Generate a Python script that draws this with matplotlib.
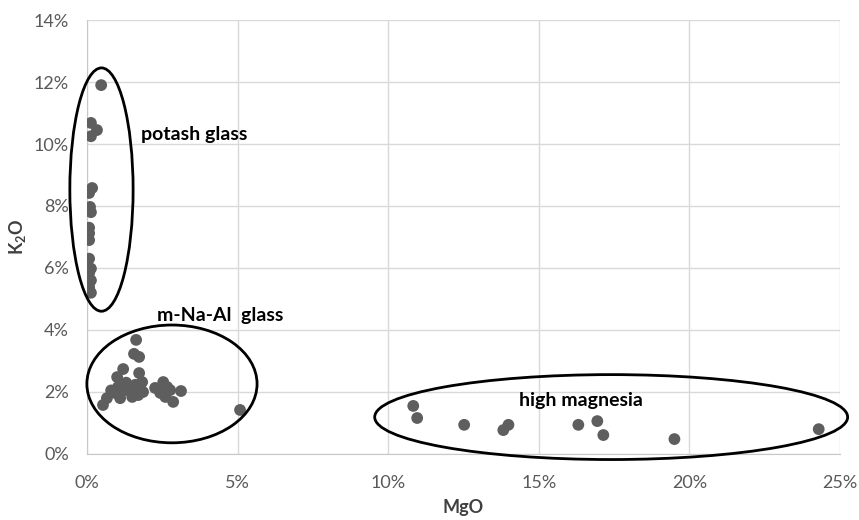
import matplotlib
matplotlib.use("Agg")
import matplotlib.pyplot as plt
from matplotlib.patches import Ellipse
from matplotlib.ticker import PercentFormatter

plt.rcParams['font.family'] = ['Lato', 'DejaVu Sans']
plt.rcParams['mathtext.fontset'] = 'custom'
plt.rcParams['mathtext.bf'] = 'Lato:bold'
plt.rcParams['mathtext.rm'] = 'Lato'

# MgO (%) and K2O (%) values
potash_mgo = [0.47, 0.13, 0.33, 0.13, 0.17, 0.07, 0.10, 0.13, 0.07, 0.07, 0.07, 0.07, 0.13, 0.07, 0.13, 0.07, 0.13]
potash_k2o = [11.9, 10.68, 10.45, 10.25, 8.58, 8.42, 7.97, 7.8, 7.3, 7.12, 6.9, 6.3, 5.98, 5.84, 5.6, 5.38, 5.2]

mnaal_mgo = [1.63, 1.56, 1.73, 1.2, 1.0, 1.73, 1.83, 1.03, 1.26, 1.43, 1.6, 1.7, 1.5, 1.1, 0.66, 0.53,
             0.93, 1.86, 2.26, 2.53, 2.66, 2.43, 2.76, 2.86, 3.12, 2.6, 5.08, 1.3, 0.8, 1.55]
mnaal_k2o = [3.68, 3.23, 3.13, 2.74, 2.48, 2.61, 2.32, 2.16, 2.06, 2.16, 2.23, 1.9, 1.84, 1.8, 1.8, 1.58,
             1.97, 2.0, 2.13, 2.32, 2.16, 1.97, 2.06, 1.68, 2.03, 1.84, 1.42, 2.3, 2.05, 1.95]

highmg_mgo = [10.83, 10.96, 12.52, 13.82, 13.99, 16.31, 16.94, 17.14, 19.5, 24.29]
highmg_k2o = [1.55, 1.16, 0.94, 0.77, 0.94, 0.94, 1.06, 0.61, 0.48, 0.8]

x_ticks = [0, 5, 10, 15, 20, 25]
y_ticks = [0, 2, 4, 6, 8, 10, 12, 14]

fig = plt.figure(figsize=(8.59, 5.20), dpi=100)
ax = fig.add_axes([0.1013, 0.127, 0.8767, 0.8345])

mc = '#5e5e5e'
for xs, ys in [(potash_mgo, potash_k2o), (mnaal_mgo, mnaal_k2o), (highmg_mgo, highmg_k2o)]:
    ax.scatter(xs, ys, s=72, color=mc, edgecolor='none', zorder=3)

ax.set_xlim(0, 25)
ax.set_ylim(0, 14)
ax.set_xticks(x_ticks)
ax.set_yticks(y_ticks)
ax.xaxis.set_major_formatter(PercentFormatter(decimals=0))
ax.yaxis.set_major_formatter(PercentFormatter(decimals=0))
ax.grid(True, color='#d9d9d9', linewidth=1)
ax.set_axisbelow(True)
for s in ['top', 'right']:
    ax.spines[s].set_visible(False)
for s in ['left', 'bottom']:
    ax.spines[s].set_color('#c8c8c8')
ax.tick_params(length=0, labelsize=13, colors='#595959')
ax.tick_params(axis='x', pad=15)
ax.tick_params(axis='y', pad=13)

# ellipses
ell_kw = dict(fill=False, edgecolor='black', linewidth=2, clip_on=False, zorder=4)
ax.add_patch(Ellipse((0.48, 8.53), 2.1, 7.85, **ell_kw))
ax.add_patch(Ellipse((2.82, 2.26), 5.65, 3.8, **ell_kw))
ax.add_patch(Ellipse((17.4, 1.19), 15.7, 2.74, **ell_kw))

ax.text(1.78, 10.3, 'potash glass', fontsize=14, fontweight='bold', ha='left', va='center')
ax.text(2.33, 4.48, 'm-Na-Al  glass', fontsize=14, fontweight='bold', ha='left', va='center')
ax.text(16.4, 1.74, 'high magnesia', fontsize=14, fontweight='bold', ha='center', va='center')

ax.set_xlabel('MgO', fontsize=13, fontweight='bold', color='#404040', labelpad=6)
ax.set_ylabel(r'$\mathbf{K_2O}$', fontsize=13, color='#404040', labelpad=4)

fig.savefig('out.png', dpi=100)
